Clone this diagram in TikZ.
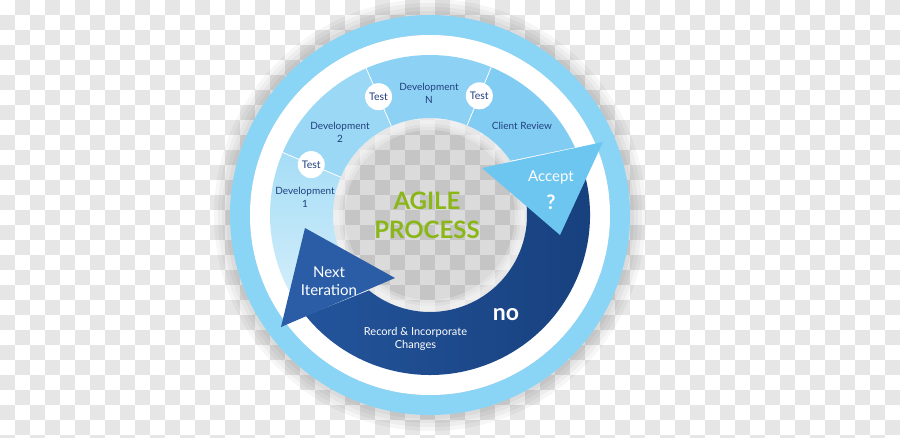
\documentclass[tikz,border=0pt]{standalone}
\usepackage{fontspec}
\setmainfont{Lato}
\definecolor{ringblue}{HTML}{8AD4F6}
\definecolor{segone}{HTML}{A6DDF6}
\definecolor{segtwo}{HTML}{9AD8F5}
\definecolor{segthree}{HTML}{8DD2F4}
\definecolor{segfour}{HTML}{80CCF2}
\definecolor{acceptblue}{HTML}{6DC6F0}
\definecolor{bandleft}{HTML}{23549B}
\definecolor{bandright}{HTML}{173F7C}
\definecolor{nextblue}{HTML}{2A5DA6}
\definecolor{textblue}{HTML}{22407F}
\definecolor{agilegreen}{HTML}{8AB618}
\definecolor{checkgrey}{HTML}{E6E6E6}
\tikzset{
  testdot/.style={circle, fill=white, minimum size=27pt, inner sep=0pt, text=textblue,
    font=\fontsize{10.5}{12}\selectfont},
  steplabel/.style={align=center, text=textblue, font=\fontsize{10}{13}\selectfont},
  whitelabel/.style={align=center, text=white},
  divider/.style={white, line width=.8pt}
}
\begin{document}
\begin{tikzpicture}[x=1pt,y=1pt]
  \useasboundingbox (-430,-222) rectangle (470,215);

  \fill[white] (-430,-222) rectangle (470,215);
  \foreach \j in {0,...,29}{
    \pgfmathtruncatemacro\off{mod(\j+1,2)}
    \foreach \i in {0,2,...,58}{
      \fill[checkgrey] ({-430+15*(\i+\off)},{215-15*\j}) rectangle ++(15,-15);
    }
  }

  \foreach \r in {216,212,208,204}{
    \fill[black, opacity=.035] (0,0) circle[radius=\r];
  }
  \fill[ringblue, even odd rule] (0,0) circle[radius=200] (0,0) circle[radius=180];
  \fill[white, even odd rule] (0,0) circle[radius=180] (0,0) circle[radius=97];
  \foreach \r in {97,94,91}{
    \fill[white, opacity=.25, even odd rule] (0,0) circle[radius=97] (0,0) circle[radius=\r-6];
  }

  % light band
  \shade[top color=segone, middle color=segone, bottom color=white!55!segone]
    (218:160) arc[start angle=218, end angle=157, radius=160]
    -- (157:97) arc[start angle=157, end angle=218, radius=97] -- cycle;
  \fill[segtwo] (157:160) arc[start angle=157, end angle=113.5, radius=160]
    -- (113.5:97) arc[start angle=113.5, end angle=157, radius=97] -- cycle;
  \fill[segthree] (113.5:160) arc[start angle=113.5, end angle=67.5, radius=160]
    -- (67.5:97) arc[start angle=67.5, end angle=113.5, radius=97] -- cycle;
  \fill[segfour] (67.5:160) arc[start angle=67.5, end angle=25, radius=160]
    -- (34:97) arc[start angle=34, end angle=67.5, radius=97] -- cycle;

  % dark band
  \shade[left color=bandleft, right color=bandright]
    (20:160) arc[start angle=20, end angle=-141, radius=160]
    -- (-129:97) arc[start angle=-129, end angle=20, radius=97] -- cycle;

  \coordinate (nexttip) at (-125,-13);
  \coordinate (nextin)  at (-35,-63);
  \coordinate (nextout) at (-149,-112);
  \fill[nextblue] (nexttip) -- (nextin) -- (nextout) -- cycle;

  \coordinate (accin)  at (52,47);
  \coordinate (accout) at (173,73);
  \coordinate (acctip) at (130,-20);
  \fill[acceptblue] (accin) -- (accout) -- (acctip) -- cycle;

  \foreach \a [count=\k] in {157,113.5,67.5}{
    \coordinate (cutin\k)  at (\a:97);
    \coordinate (cutout\k) at (\a:160);
    \draw[divider] (cutin\k) -- (cutout\k);
  }

  \node[testdot] (test1) at (157:129)   {Test};
  \node[testdot] (test2) at (113.5:129) {Test};
  \node[testdot] (test3) at (67.5:129)  {Test};

  \node[steplabel] (dev1)   at (-125,18) {Development\\1};
  \node[steplabel] (dev2)   at (-90,83)  {Development\\2};
  \node[steplabel] (devn)   at (-1,122)  {Development\\N};
  \node[steplabel] (review) at (92,89)   {Client Review};

  \node[whitelabel, font=\fontsize{15}{17}\selectfont] (accept) at (121,38) {Accept};
  \node[whitelabel, font=\bfseries\fontsize{20}{22}\selectfont] (ask) at (121,13) {?};

  \node[text=agilegreen, font=\bfseries\fontsize{24}{29}\selectfont, align=center]
    (title) at (-3,0) {AGILE\\PROCESS};

  \node[whitelabel, font=\fontsize{15}{18}\selectfont] (next) at (-101,-66) {Next\\Iteration};
  \node[whitelabel, font=\bfseries\fontsize{23}{25}\selectfont] (no) at (76,-100) {no};
  \node[whitelabel, font=\fontsize{11}{13}\selectfont] (record) at (-14.5,-123.5)
    {Record \& Incorporate\\Changes};
\end{tikzpicture}
\end{document}
